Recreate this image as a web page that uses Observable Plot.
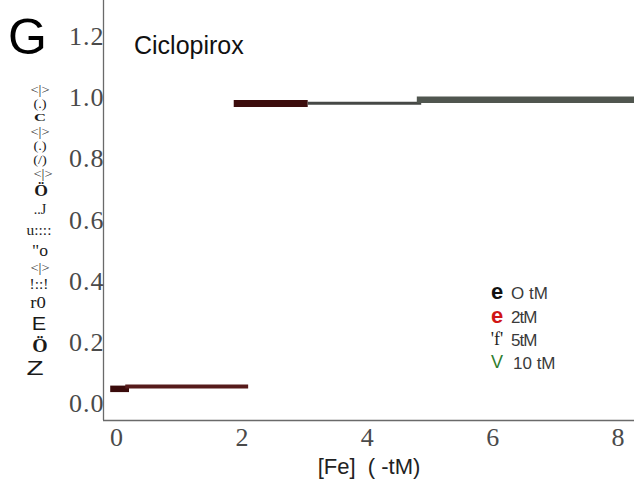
<!DOCTYPE html>
<html>
<head>
<meta charset="utf-8">
<script src="https://cdn.jsdelivr.net/npm/d3@7"></script>
<script src="https://cdn.jsdelivr.net/npm/@observablehq/plot@0.6"></script>
<style>
  html, body { margin: 0; padding: 0; background: #fff; }
  #wrap { position: relative; width: 634px; height: 485px; overflow: hidden; }
  .ov { position: absolute; white-space: pre; line-height: 1; }
  .g { position: absolute; white-space: pre; line-height: 0.72; transform: translate(-50%, -50%); color: #1a1a1a; font-family: "Liberation Serif", serif; }
</style>
</head>
<body>
<div id="wrap"></div>
<script>
// ---- data ----
const segIds    = ["s1", "s2", "s3", "s4", "s5"];
const segStart  = [-0.10, 0.14, 1.87, 3.05, 4.79];
const segEnd    = [0.20, 2.10, 3.05, 4.86, 8.30];
const segValue  = [0.048, 0.056, 0.982, 0.983, 0.994];

const xTicks = [0, 2, 4, 6, 8];
const yTicks = [0, 0.2, 0.4, 0.6, 0.8, 1.0, 1.2];

const legendSymbols = ["e", "e", "'f'", "V"];
const legendLabels  = ["O tM", "2tM", "5tM", "10 tM"];

const panelLetter = "G";
const titleText = "Ciclopirox";
const xLabelText = "[Fe]  ( -tM)";
const yLabelGlyphs = ["<|>", "(.)", "C", "<|>", "(.)", "(/)", "<|>", "Ö", "..J", "u::::", "\"o", "<|>", "!::!", "r0", "E", "Ö", "Z"];

// ---- styles (kept separate from data) ----
const segStyle = {
  s1: {stroke: "#3a0b0b", width: 6.5},
  s2: {stroke: "#561a1a", width: 4},
  s3: {stroke: "#3c0d0d", width: 7},
  s4: {stroke: "#464846", width: 3},
  s5: {stroke: "#50564f", width: 6.5}
};
const legendColors = ["#111", "#d01515", "#222", "#2e7d2e"];

const xDomain = [-0.215, 8.254];
const yDomain = [-0.0556, 1.319];

const segs = segIds.map((id, i) => ({id, x1: segStart[i], x2: segEnd[i], y: segValue[i]}));

const plot = Plot.plot({
  width: 634,
  height: 485,
  marginLeft: 103,
  marginRight: 0,
  marginTop: 0,
  marginBottom: 65,
  x: {domain: xDomain},
  y: {domain: yDomain},
  style: {fontFamily: "Liberation Serif, serif", fontSize: "26px", color: "#4a4a4a", background: "transparent", overflow: "visible", letterSpacing: "1px"},
  marks: [
    ...segIds.map(id => Plot.ruleY(segs.filter(d => d.id === id), {
      x1: "x1", x2: "x2", y: "y",
      stroke: segStyle[id].stroke, strokeWidth: segStyle[id].width, clip: true
    })),
    Plot.ruleX([xDomain[0]], {stroke: "#6a6a6a", strokeWidth: 1.3}),
    Plot.ruleY([yDomain[0]], {stroke: "#6a6a6a", strokeWidth: 1.3}),
    Plot.axisY(yTicks, {tickSize: 0, tickPadding: -1, tickFormat: d => d.toFixed(1), label: null, fill: "#4a4a4a", fontSize: 26}),
    Plot.axisX(xTicks, {tickSize: 0, tickPadding: 7, tickFormat: d => String(d), label: null, fill: "#4a4a4a", fontSize: 26})
  ]
});

const wrap = document.getElementById("wrap");
plot.style.position = "absolute";
plot.style.left = "0px";
plot.style.top = "0px";
wrap.appendChild(plot);

function addDiv(text, css, cls) {
  const d = document.createElement("div");
  d.className = cls || "ov";
  d.textContent = text;
  Object.assign(d.style, css);
  wrap.appendChild(d);
  return d;
}

// panel letter and title
addDiv(panelLetter, {left: "8px", top: "12px", fontFamily: "Liberation Sans, sans-serif", fontSize: "50px", color: "#000"});
addDiv(titleText, {left: "134px", top: "33px", fontFamily: "Liberation Sans, sans-serif", fontSize: "25px", color: "#111"});

// x axis label
addDiv(xLabelText, {left: "369px", top: "467px", transform: "translate(-50%,-50%)", fontFamily: "Liberation Sans, sans-serif", fontSize: "22px", color: "#222"});

// legend
const legY = [293, 317, 340, 363];
const symFont = ["Liberation Sans, sans-serif", "Liberation Sans, sans-serif", "Liberation Serif, serif", "Liberation Sans, sans-serif"];
legendSymbols.forEach((s, i) => {
  addDiv(s, {left: "497px", top: legY[i] + "px", transform: "translate(-50%,-55%)", fontFamily: symFont[i], fontSize: i < 2 ? "22px" : "18px", fontWeight: i < 2 ? "bold" : "normal", color: legendColors[i]});
  addDiv(legendLabels[i], {left: i === 3 ? "513px" : "511px", top: legY[i] + "px", transform: "translateY(-50%)", fontFamily: "Liberation Sans, sans-serif", fontSize: "17px", color: "#3a3a3a", letterSpacing: (i === 1 || i === 2) ? "-1px" : "0px"});
});

// y label (garbled stacked glyphs as in the reference)
const glyphY    = [90, 104, 118, 132, 146, 160, 174, 191, 210, 231, 251, 268, 285, 303, 324, 346, 368];
const glyphX    = [40, 40, 40, 40, 40, 40, 43, 41, 40, 39, 40, 40, 39, 38, 39, 40, 35];
const glyphSize = [12, 12, 11, 12, 12, 12, 12, 16, 14, 14, 16, 12, 14, 17, 18, 18, 20];
const glyphScaleX = [1.2, 1.2, 1.5, 1.2, 1.2, 1.2, 1.2, 1.1, 1, 1.1, 1.1, 1.2, 1.1, 1.1, 1.2, 1.1, 1.4];
const glyphSans = [14, 16];
const glyphBold = [2, 7, 15];
yLabelGlyphs.forEach((t, i) => {
  addDiv(t, {
    left: glyphX[i] + "px", top: glyphY[i] + "px", fontSize: glyphSize[i] + "px",
    transform: `translate(-50%, -50%) scaleX(${glyphScaleX[i]})`,
    fontFamily: glyphSans.includes(i) ? "Liberation Sans, sans-serif" : "Liberation Serif, serif",
    fontWeight: glyphBold.includes(i) ? "bold" : "normal"
  }, "g");
});
</script>
</body>
</html>
